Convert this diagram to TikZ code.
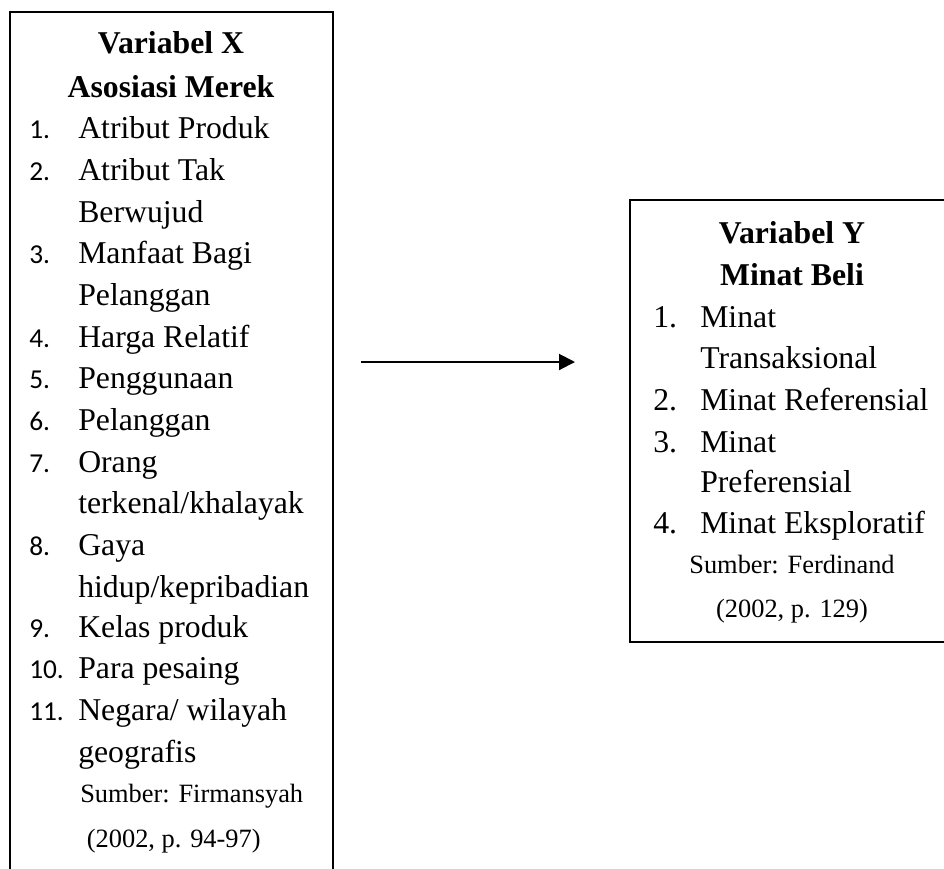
\documentclass[tikz,border=0pt]{standalone}
\usepackage{fontspec}
\setmainfont{Liberation Serif}
\newfontfamily\numfont{Carlito}
\usetikzlibrary{arrows.meta}

\tikzset{
  judul/.style={anchor=base,inner sep=0pt,font=\fontsize{23.8}{28}\selectfont\bfseries},
  butir/.style={anchor=base west,inner sep=0pt,font=\fontsize{23.8}{28}\selectfont},
  nomor/.style={anchor=base west,inner sep=0pt,font=\numfont\fontsize{20.5}{24}\selectfont},
  sumber/.style={inner sep=0pt,font=\fontsize{19.8}{24}\selectfont},
  kotak/.style={line width=1.3pt},
}

\begin{document}
\begin{tikzpicture}[x=0.75pt,y=-0.75pt]
        \useasboundingbox (0,0) rectangle (944,868);
        \clip (0,0) rectangle (944,868);

        % kotak variabel X dan Y
        \draw[kotak] (10,12) rectangle (333,885);
        \draw[kotak] (630,200) rectangle (956,642);

        % variabel X
        \node[judul] (xjudul) at (171,53) {Variabel X};
        \node[judul] (xnama) at (171,97) {Asosiasi Merek};
        \foreach \n/\y/\t in {1/138/{Atribut Produk}, 2/180/{Atribut Tak},
            3/263/{Manfaat Bagi}, 4/347/{Harga Relatif}, 5/388/{Penggunaan},
            6/430/{Pelanggan}, 7/472/{Orang}, 8/555/{Gaya}, 9/637/{Kelas produk},
            10/678/{Para pesaing}, 11/720/{Negara/ wilayah}}
        {\node[nomor] (xn\n) at (29,\y) {\n.};
         \node[butir] (xb\n) at (78,\y) {\t};}
        \foreach \k/\y/\t in {1/222/{Berwujud}, 2/305/{Pelanggan},
            3/513/{terkenal/khalayak}, 4/597/{hidup/kepribadian}, 5/762/{geografis}}
        {\node[butir] (xl\k) at (78,\y) {\t};}
        \node[sumber,anchor=base west] (xsumber) at (80,802) {Sumber: Firmansyah};
        \node[sumber,anchor=base west] (xtahun) at (80,847) {\ (2002, p. 94-97)};

        % variabel Y
        \node[judul] (yjudul) at (792,243) {Variabel Y};
        \node[judul] (ynama) at (792,285) {Minat Beli};
        \foreach \n/\y/\t in {1/327/{Minat}, 2/410/{Minat Referensial},
            3/452/{Minat}, 4/533/{Minat Eksploratif}}
        {\node[butir] (yn\n) at (653,\y) {\n.};
         \node[butir] (yb\n) at (700,\y) {\t};}
        \node[butir] (yl1) at (700,368) {Transaksional};
        \node[butir] (yl2) at (700,492) {Preferensial};
        \node[sumber,anchor=base] (ysumber) at (792,573) {Sumber: Ferdinand};
        \node[sumber,anchor=base] (ytahun) at (792,617) {(2002, p. 129)};

        % panah X ke Y
        \coordinate (pawal) at (361,362);
        \coordinate (pakhir) at (575,362);
        \draw[line width=1.5pt,-{Triangle[length=12pt,width=12pt]}] (pawal) -- (pakhir);
      \end{tikzpicture}
\end{document}
